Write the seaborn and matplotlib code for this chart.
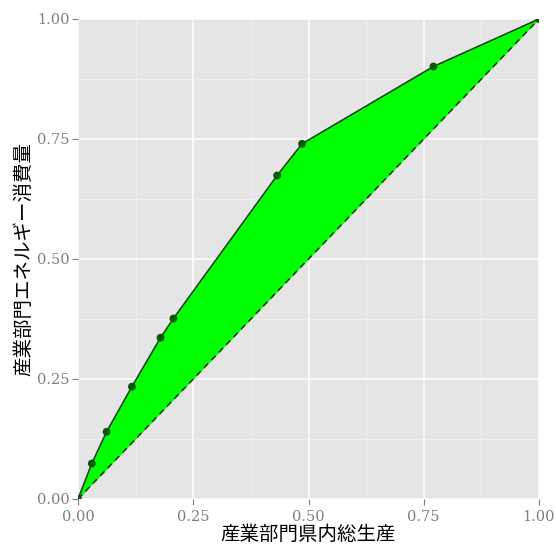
import matplotlib
matplotlib.use("Agg")
import matplotlib.pyplot as plt
import numpy as np
import pandas as pd
import seaborn as sns

# Cumulative shares (Lorenz curve) of industrial output vs. industrial energy use
gdp_share = [0.0, 0.030, 0.062, 0.117, 0.179, 0.207, 0.432, 0.486, 0.771, 1.0]
energy_share = [0.0, 0.074, 0.140, 0.234, 0.336, 0.376, 0.674, 0.740, 0.901, 1.0]
ticks = [0.0, 0.25, 0.5, 0.75, 1.0]
tick_labels = ["0.00", "0.25", "0.50", "0.75", "1.00"]

df = pd.DataFrame({"gdp": gdp_share, "energy": energy_share})

sns.set_theme(style="darkgrid")
plt.rcParams["font.family"] = ["Noto Sans CJK JP", "DejaVu Sans"]

fig = plt.figure(figsize=(5.56, 5.47), dpi=100)
ax = fig.add_axes([78 / 556, 1 - 499 / 547, 461 / 556, 480 / 547])
ax.set_facecolor("#E5E5E5")

# shaded gap between the curve and the line of equality
ax.fill_between(df["gdp"], df["gdp"], df["energy"], color="#00FF00", linewidth=0, zorder=2)
ax.plot([0, 1], [0, 1], color="#143614", linestyle=(0, (4, 3)), linewidth=1.1, zorder=3)
sns.lineplot(data=df, x="gdp", y="energy", sort=False, color="#174717",
             linewidth=1.2, ax=ax, zorder=4)
sns.scatterplot(data=df, x="gdp", y="energy", color="#075807", s=32,
                edgecolor="none", ax=ax, zorder=5)

ax.set_xlim(0, 1)
ax.set_ylim(0, 1)
ax.set_xticks(ticks)
ax.set_yticks(ticks)
ax.set_xticks([0.125, 0.375, 0.625, 0.875], minor=True)
ax.set_yticks([0.125, 0.375, 0.625, 0.875], minor=True)
ax.grid(which="major", color="white", linewidth=1.1)
ax.grid(which="minor", color="#F2F2F2", linewidth=0.6)
ax.set_axisbelow(True)
for s in ax.spines.values():
    s.set_visible(False)

ax.set_xticklabels(tick_labels, family="DejaVu Serif", fontsize=10.5, color="#7F7F7F")
ax.set_yticklabels(tick_labels, family="DejaVu Serif", fontsize=10.5, color="#7F7F7F")
ax.tick_params(axis="x", which="major", length=4, width=0.8, color="#7F7F7F", pad=4,
               bottom=True)
ax.tick_params(axis="y", which="major", length=4, width=0.8, color="#7F7F7F", pad=2,
               left=True)
ax.tick_params(which="minor", length=0)

ax.set_xlabel("産業部門県内総生産", fontsize=14, color="black", labelpad=0)
ax.set_ylabel("産業部門エネルギー消費量", fontsize=14, color="black", labelpad=2)

fig.savefig("out.png", dpi=100)
